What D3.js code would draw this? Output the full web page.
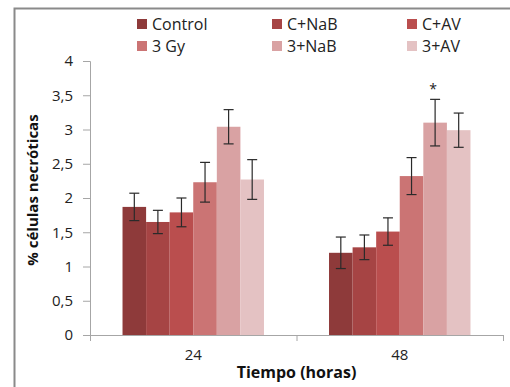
<!DOCTYPE html>
<html>
<head>
<meta charset="utf-8">
<script src="https://cdn.jsdelivr.net/npm/d3@7/dist/d3.min.js"></script>
<style>
  html, body { margin: 0; padding: 0; background: #fff; }
  svg { display: block; }
</style>
</head>
<body>
<svg id="chart" width="510" height="387"></svg>
<script>
// Time points (hours) and treatment groups
const categories = ["24", "48"];
const series = ["Control", "C+NaB", "C+AV", "3 Gy", "3+NaB", "3+AV"];
const colors = ["#8E3A3A", "#A64444", "#BA4E4E", "#CB7474", "#D9A2A3", "#E4C2C3"];

// Mean % necrotic cells per series, one value per time point
const valuesControl = [1.87, 1.20];
const valuesCNaB    = [1.65, 1.28];
const valuesCAV     = [1.79, 1.51];
const values3Gy     = [2.23, 2.32];
const values3NaB    = [3.04, 3.10];
const values3AV     = [2.27, 2.99];

// Error bar half-widths
const errControl = [0.20, 0.23];
const errCNaB    = [0.17, 0.18];
const errCAV     = [0.21, 0.20];
const err3Gy     = [0.29, 0.27];
const err3NaB    = [0.25, 0.34];
const err3AV     = [0.29, 0.25];

const yTicks = [0, 0.5, 1, 1.5, 2, 2.5, 3, 3.5, 4];
// Significance marks: [category index, series index]
const significance = [[1, 4]];

const allValues = [valuesControl, valuesCNaB, valuesCAV, values3Gy, values3NaB, values3AV];
const allErrors = [errControl, errCNaB, errCAV, err3Gy, err3NaB, err3AV];

const rows = [];
categories.forEach((c, ci) => {
  series.forEach((s, si) => {
    rows.push({ cat: c, ser: s, si, ci, v: allValues[si][ci], e: allErrors[si][ci] });
  });
});

const svg = d3.select("#chart");
const font = "'Open Sans', 'DejaVu Sans', sans-serif";

// Outer frame (left and top edges)
svg.append("path")
  .attr("d", "M14.5,387 L14.5,8.5 L510,8.5")
  .attr("fill", "none")
  .attr("stroke", "#8a8a8a")
  .attr("stroke-width", 2);

const plot = { left: 90, right: 503, top: 61, bottom: 335 };

const x = d3.scaleBand().domain(categories).range([plot.left, plot.right]).paddingInner(0).paddingOuter(0);
const groupWidth = x.bandwidth() * 0.685;
const x1 = d3.scaleBand().domain(series).range([0, groupWidth]).padding(0);
const y = d3.scaleLinear().domain([0, 4]).range([plot.bottom, plot.top]);

// Y axis
const yAxis = svg.append("g")
  .attr("transform", `translate(${plot.left},0)`)
  .call(d3.axisLeft(y).tickValues(yTicks).tickSize(7).tickPadding(10)
    .tickFormat(d => String(d).replace(".", ",")));
yAxis.selectAll("path, line").attr("stroke", "#a6a6a6").attr("stroke-width", 1);
yAxis.select(".domain").attr("d", `M-7,${y(4) + 0.5}H0.5V${plot.bottom + 6}`);
yAxis.selectAll("text").attr("font-family", font).attr("font-size", 15).attr("fill", "#222");

// X axis
const xAxis = svg.append("g")
  .attr("transform", `translate(0,${plot.bottom})`)
  .call(d3.axisBottom(x).tickSize(0).tickPadding(14));
xAxis.select(".domain").attr("stroke", "#a6a6a6").attr("d", `M${plot.left - 7},0.5H${plot.right}`);
xAxis.selectAll("text").attr("font-family", font).attr("font-size", 15).attr("fill", "#222");
// Category separator ticks
const sepTicks = [plot.left + x.bandwidth(), plot.right];
xAxis.selectAll(".sep").data(sepTicks).enter().append("line")
  .attr("class", "sep")
  .attr("x1", d => d + 0.5).attr("x2", d => d + 0.5)
  .attr("y1", 0).attr("y2", 6)
  .attr("stroke", "#a6a6a6");

// Bars
const groupOffset = (x.bandwidth() - groupWidth) / 2;
const barX = d => x(d.cat) + groupOffset + x1(d.ser);

svg.append("g").selectAll("rect").data(rows).enter().append("rect")
  .attr("x", barX)
  .attr("y", d => y(d.v))
  .attr("width", x1.bandwidth())
  .attr("height", d => y(0) - y(d.v))
  .attr("fill", d => colors[d.si]);

// Error bars
const eb = svg.append("g").attr("stroke", "#2a2a2a").attr("stroke-width", 1.2);
rows.forEach(d => {
  const cx = barX(d) + x1.bandwidth() / 2;
  const y0 = y(d.v - d.e), y1 = y(d.v + d.e);
  eb.append("line").attr("x1", cx).attr("x2", cx).attr("y1", y0).attr("y2", y1);
  eb.append("line").attr("x1", cx - 5).attr("x2", cx + 5).attr("y1", y0).attr("y2", y0);
  eb.append("line").attr("x1", cx - 5).attr("x2", cx + 5).attr("y1", y1).attr("y2", y1);
});

// Significance asterisks
significance.forEach(([ci, si]) => {
  const d = rows.find(r => r.ci === ci && r.si === si);
  svg.append("text")
    .attr("x", barX(d) + x1.bandwidth() / 2 - 2)
    .attr("y", y(d.v + d.e) - 5)
    .attr("text-anchor", "middle")
    .attr("font-family", font)
    .attr("font-size", 14)
    .attr("fill", "#222")
    .text("*");
});

// Axis titles
svg.append("text")
  .attr("transform", "translate(38,190) rotate(-90)")
  .attr("text-anchor", "middle")
  .attr("font-family", font)
  .attr("font-weight", "bold")
  .attr("font-size", 15)
  .attr("fill", "#111")
  .text("% células necróticas");

svg.append("text")
  .attr("x", x(categories[0]) + x.bandwidth())
  .attr("y", 378)
  .attr("text-anchor", "middle")
  .attr("font-family", font)
  .attr("font-weight", "bold")
  .attr("font-size", 16)
  .attr("fill", "#111")
  .text("Tiempo (horas)");

// Legend: two rows, three columns
const legendCols = [137, 272, 407];
const legendRows = [24, 46];
const legend = svg.append("g");
series.forEach((s, i) => {
  const col = i % 3, row = Math.floor(i / 3);
  const g = legend.append("g").attr("transform", `translate(${legendCols[col]},${legendRows[row]})`);
  g.append("rect").attr("x", 0).attr("y", -5).attr("width", 10).attr("height", 10).attr("fill", colors[i]);
  g.append("text")
    .attr("x", 15).attr("y", 0).attr("dy", "0.35em")
    .attr("font-family", font).attr("font-size", 16).attr("fill", "#222")
    .text(s);
});
</script>
</body>
</html>
